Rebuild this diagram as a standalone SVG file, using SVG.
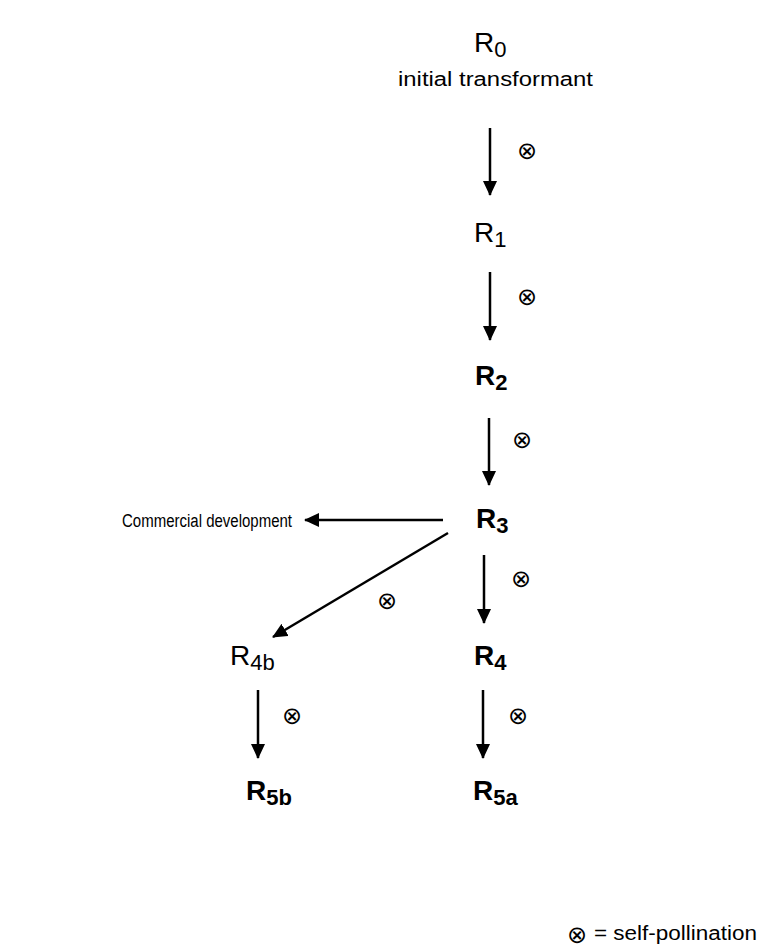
<svg xmlns="http://www.w3.org/2000/svg" width="766" height="951" viewBox="0 0 766 951">
<style>
.r{font-family:"Liberation Sans",Arial,sans-serif;font-size:28px;fill:#000}
.b{font-weight:bold}
.s{font-size:22px}
.t{font-family:"Liberation Sans",Arial,sans-serif;font-size:20px;fill:#000}
.cd{font-size:18px}
.x{font-family:"DejaVu Sans",sans-serif;font-size:24px;fill:#000;text-anchor:middle}
.c{stroke:#000;stroke-width:2.5;fill:none;marker-end:url(#ah)}
</style>
<defs>
<marker id="ah" markerUnits="userSpaceOnUse" markerWidth="16" markerHeight="14" refX="14" refY="7" orient="auto">
<path d="M0,0 L15,7 L0,14 Z" fill="#000"/>
</marker>
</defs>
<rect width="766" height="951" fill="#fff"/>
<g id="connectors">
<line class="c" x1="490" y1="128" x2="490" y2="195"/>
<line class="c" x1="490" y1="272" x2="490" y2="340"/>
<line class="c" x1="489" y1="418" x2="489" y2="485"/>
<line class="c" x1="443" y1="520" x2="305" y2="520"/>
<line class="c" x1="448" y1="533" x2="273" y2="637"/>
<line class="c" x1="484" y1="555" x2="484" y2="623"/>
<line class="c" x1="258" y1="690" x2="258" y2="758"/>
<line class="c" x1="483" y1="690" x2="483" y2="758"/>
<text class="x" x="527" y="159">⊗</text>
<text class="x" x="527" y="305">⊗</text>
<text class="x" x="522" y="448">⊗</text>
<text class="x" x="387" y="609">⊗</text>
<text class="x" x="521" y="587">⊗</text>
<text class="x" x="292" y="724">⊗</text>
<text class="x" x="518" y="724">⊗</text>
</g>
<g id="R0"><text class="r" x="474" y="52">R<tspan class="s" dy="5">0</tspan></text>
<text class="t" x="398" y="86" textLength="195" lengthAdjust="spacingAndGlyphs">initial transformant</text></g>
<g id="R1"><text class="r" x="474" y="242">R<tspan class="s" dy="5">1</tspan></text></g>
<g id="R2"><text class="r b" x="475" y="385">R<tspan class="s" dy="5">2</tspan></text></g>
<g id="R3"><text class="r b" x="476" y="528">R<tspan class="s" dy="5">3</tspan></text></g>
<g id="commercial"><text class="t cd" x="122" y="527" textLength="170" lengthAdjust="spacingAndGlyphs">Commercial development</text></g>
<g id="R4b"><text class="r" x="230" y="665">R<tspan class="s" dy="5">4b</tspan></text></g>
<g id="R4"><text class="r b" x="474" y="665">R<tspan class="s" dy="5">4</tspan></text></g>
<g id="R5b"><text class="r b" x="246" y="800">R<tspan class="s" dy="5">5b</tspan></text></g>
<g id="R5a"><text class="r b" x="473" y="800">R<tspan class="s" dy="5">5a</tspan></text></g>
<g id="legend"><text class="x" x="577" y="943">⊗</text>
<text class="t" x="594" y="940" textLength="163" lengthAdjust="spacingAndGlyphs">= self-pollination</text></g>
</svg>
